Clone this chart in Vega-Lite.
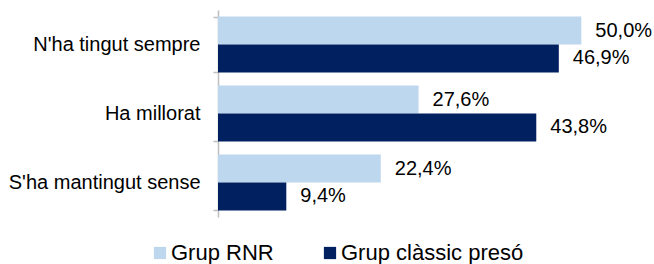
{
  "$schema": "https://vega.github.io/schema/vega-lite/v6.json",
  "width": 436,
  "height": 207,
  "autosize": {"type": "none"},
  "padding": {"left": 218, "top": 10, "right": 0, "bottom": 47},
  "config": {
    "font": "Liberation Sans",
    "view": {"stroke": null},
    "locale": {"number": {"decimal": ",", "thousands": ".", "grouping": [3], "currency": ["", " €"]}}
  },
  "data": {
    "values": [
      {"categoria": "N'ha tingut sempre", "grup": "Grup RNR", "valor": 0.500},
      {"categoria": "N'ha tingut sempre", "grup": "Grup clàssic presó", "valor": 0.469},
      {"categoria": "Ha millorat", "grup": "Grup RNR", "valor": 0.276},
      {"categoria": "Ha millorat", "grup": "Grup clàssic presó", "valor": 0.438},
      {"categoria": "S'ha mantingut sense", "grup": "Grup RNR", "valor": 0.224},
      {"categoria": "S'ha mantingut sense", "grup": "Grup clàssic presó", "valor": 0.094}
    ]
  },
  "encoding": {
    "y": {
      "field": "categoria",
      "type": "nominal",
      "sort": ["N'ha tingut sempre", "Ha millorat", "S'ha mantingut sense"],
      "scale": {"paddingInner": 0.19, "paddingOuter": 0.095},
      "axis": {
        "title": null,
        "domainColor": "#BFBFBF",
        "domainWidth": 1.5,
        "ticks": true,
        "tickColor": "#BFBFBF",
        "tickWidth": 1.5,
        "tickSize": 5,
        "tickBand": "extent",
        "labelFontSize": 20,
        "labelColor": "#000000",
        "labelPadding": 13,
        "labelLimit": 300
      }
    },
    "yOffset": {
      "field": "grup",
      "type": "nominal",
      "sort": ["Grup RNR", "Grup clàssic presó"],
      "scale": {"paddingInner": 0, "paddingOuter": 0}
    },
    "x": {
      "field": "valor",
      "type": "quantitative",
      "scale": {"domain": [0, 0.6], "nice": false},
      "axis": null
    }
  },
  "layer": [
    {
      "mark": {"type": "bar"},
      "encoding": {
        "color": {
          "field": "grup",
          "type": "nominal",
          "sort": ["Grup RNR", "Grup clàssic presó"],
          "scale": {"domain": ["Grup RNR", "Grup clàssic presó"], "range": ["#BDD7EE", "#002060"]},
          "legend": {
            "title": null,
            "orient": "none",
            "direction": "horizontal",
            "legendX": -69,
            "legendY": 232,
            "symbolType": "square",
            "symbolSize": 150,
            "symbolStrokeWidth": 0,
            "labelFontSize": 22,
            "labelColor": "#000000",
            "labelOffset": 0,
            "columnPadding": 45,
            "labelLimit": 300
          }
        }
      }
    },
    {
      "mark": {"type": "text", "align": "left", "baseline": "middle", "dx": 14, "fontSize": 20, "color": "#000000"},
      "encoding": {
        "text": {"field": "valor", "type": "quantitative", "format": ".1%"}
      }
    }
  ]
}
